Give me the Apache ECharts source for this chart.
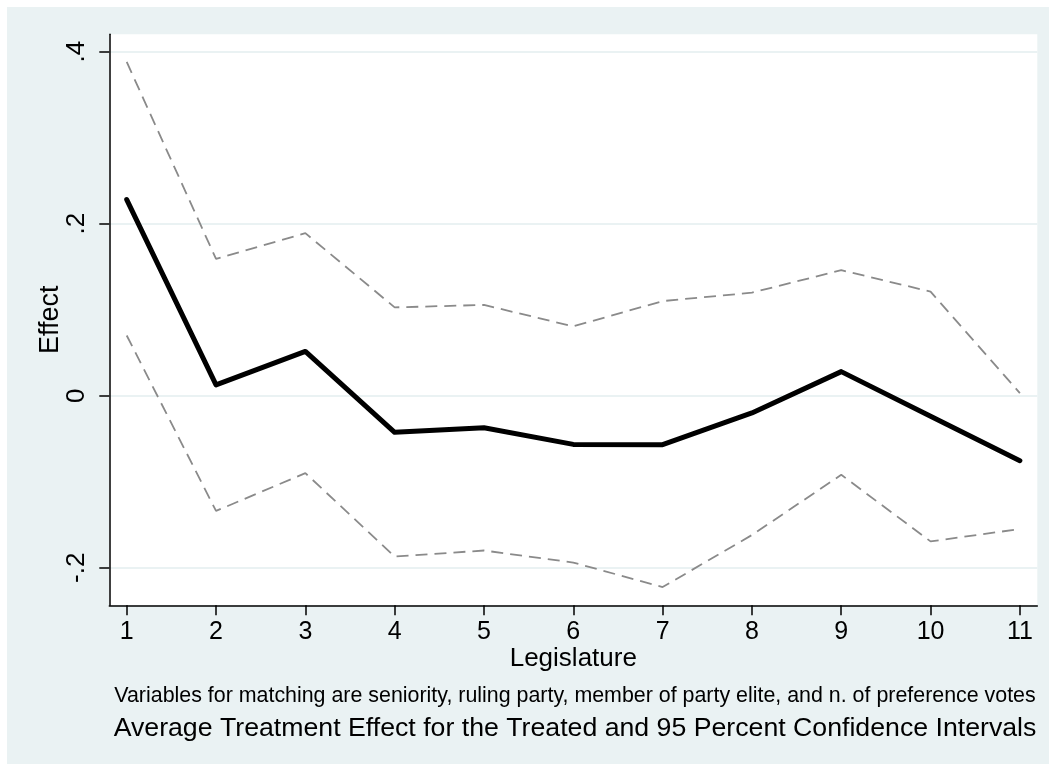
<!DOCTYPE html>
<html>
<head>
<meta charset="utf-8">
<script src="https://cdn.jsdelivr.net/npm/echarts@6/dist/echarts.min.js"></script>
<style>
  html, body { margin: 0; padding: 0; background: #ffffff; }
  #chart { position: absolute; left: 7px; top: 7px; width: 1042px; height: 757px; }
</style>
</head>
<body>
<div id="chart"></div>
<script>
// Legislature number (x) and estimated treatment effect with 95% bounds
const legislature = [1, 2, 3, 4, 5, 6, 7, 8, 9, 10, 11];
const effect = [0.228, 0.0125, 0.0515, -0.0426, -0.0372, -0.0566, -0.0570, -0.0200, 0.0280, -0.0240, -0.0755];
const upperCI = [0.388, 0.159, 0.189, 0.1027, 0.1055, 0.0806, 0.110, 0.1198, 0.146, 0.121, 0.003];
const lowerCI = [0.070, -0.134, -0.090, -0.187, -0.180, -0.194, -0.2225, -0.162, -0.092, -0.1694, -0.155];

// Axis ticks and their printed labels
const xTickValues = [1, 2, 3, 4, 5, 6, 7, 8, 9, 10, 11];
const yTickValues = [-0.2, 0, 0.2, 0.4];
const yTickLabels = ['-.2', '0', '.2', '.4'];

const xTitle = 'Legislature';
const yTitle = 'Effect';
const noteText = 'Variables for matching are seniority, ruling party, member of party elite, and n. of preference votes';
const captionText = 'Average Treatment Effect for the Treated and 95 Percent Confidence Intervals';

const FONT = "'Liberation Sans', Arial, Helvetica, sans-serif";
const BG = '#EAF2F3';

const pairs = (ys) => legislature.map((x, i) => [x, ys[i]]);

const chart = echarts.init(document.getElementById('chart'), null, { renderer: 'canvas' });

const ciStyle = { color: '#8a8a8a', width: 1.8, type: [12, 7] };

chart.setOption({
  backgroundColor: BG,
  animation: false,
  textStyle: { fontFamily: FONT },
  grid: {
    left: 102.3, top: 27.3, right: 11.7, bottom: 158.7,
    show: true, backgroundColor: '#ffffff', borderWidth: 0,
    outerBoundsMode: 'none'
  },
  xAxis: {
    type: 'value',
    min: 0.805, max: 11.195,
    name: xTitle,
    nameLocation: 'middle',
    nameGap: 41,
    nameMoveOverlap: false,
    nameTextStyle: { color: '#000', fontSize: 26, fontFamily: FONT },
    axisLine: { show: true, onZero: false, lineStyle: { color: '#000', width: 1.5 } },
    axisTick: { show: true, length: 10, customValues: xTickValues, lineStyle: { color: '#000', width: 1.5 } },
    axisLabel: { show: true, customValues: xTickValues, margin: 14, color: '#000', fontSize: 25, fontFamily: FONT },
    splitLine: { show: false }
  },
  yAxis: {
    type: 'value',
    min: -0.2437, max: 0.4202,
    name: yTitle,
    nameLocation: 'middle',
    nameGap: 45,
    nameRotate: 90,
    nameMoveOverlap: false,
    nameTextStyle: { color: '#000', fontSize: 27, fontFamily: FONT },
    axisLine: { show: true, onZero: false, lineStyle: { color: '#000', width: 1.5 } },
    axisTick: { show: true, length: 10, customValues: yTickValues, lineStyle: { color: '#000', width: 1.5 } },
    axisLabel: {
      show: true, customValues: yTickValues, rotate: 90, margin: 19,
      color: '#000', fontSize: 26, fontFamily: FONT,
      formatter: (v) => {
        const i = yTickValues.findIndex((t) => Math.abs(t - v) < 1e-9);
        return i >= 0 ? yTickLabels[i] : '';
      }
    },
    splitLine: { show: true, lineStyle: { color: BG, width: 2 } }
  },
  graphic: [
    {
      type: 'text', x: 568, y: 689,
      style: { text: noteText, font: '21.4px ' + FONT, fill: '#000', align: 'center', verticalAlign: 'middle' }
    },
    {
      type: 'text', x: 568, y: 722,
      style: { text: captionText, font: '26.7px ' + FONT, fill: '#000', align: 'center', verticalAlign: 'middle' }
    }
  ],
  series: [
    {
      name: 'Upper bound', type: 'line', data: pairs(upperCI),
      showSymbol: false, symbol: 'none', lineStyle: ciStyle, z: 2
    },
    {
      name: 'Lower bound', type: 'line', data: pairs(lowerCI),
      showSymbol: false, symbol: 'none', lineStyle: ciStyle, z: 2
    },
    {
      name: 'ATT', type: 'line', data: pairs(effect),
      showSymbol: false, symbol: 'none',
      lineStyle: { color: '#000', width: 5, cap: 'round', join: 'round' }, z: 3
    }
  ]
});
</script>
</body>
</html>
